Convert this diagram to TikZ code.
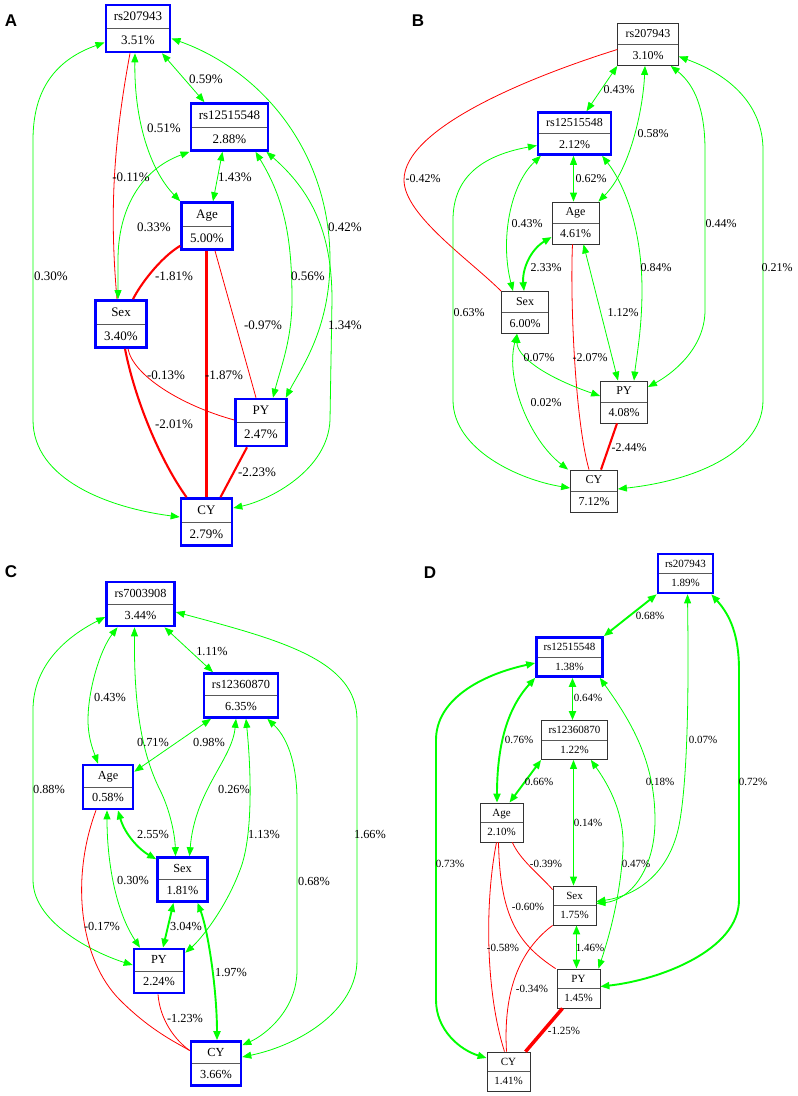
\documentclass[tikz,border=0pt]{standalone}
\usepackage{fontspec}
\setmainfont{Liberation Serif}
\newfontfamily\panelfont{Liberation Sans}
\usetikzlibrary{arrows.meta}

\tikzset{
  box/.style={draw=black!80, line width=0.8pt, align=center, inner xsep=8pt, inner ysep=1pt,
    path picture={\draw[black!65,line width=1pt] (path picture bounding box.west) -- (path picture bounding box.east);}},
  hl/.style={draw=blue, line width=2.6pt},
  plink/.style={draw=green, line width=0.8pt, <->},
  plinkw/.style={plink, line width=1.9pt},
  nlink/.style={draw=red, line width=0.8pt},
  nlinkw/.style={nlink, line width=2.1pt},
  lbl/.style={inner sep=0pt},
  panel/.style={font=\panelfont\bfseries\fontsize{17}{17}\selectfont, inner sep=0pt}
}

\begin{document}
\begin{tikzpicture}[x=1pt,y=-1pt,>={Triangle[length=9pt,width=7pt]}]
\useasboundingbox (0,0) rectangle (798,1096);
\node[panel] at (11,21)(pA){A};
\node[panel] at (418,21)(pB){B};
\node[panel] at (11,572)(pC){C};
\node[panel] at (430,573)(pD){D};

% panel A
\begin{scope}[font=\fontsize{13}{24}\selectfont, box/.append style={minimum width=51pt, minimum height=47pt}]
  \node[box,hl] at (138,28.5)(aRs){rs207943\\3.51\%};
  \node[box,hl] at (229.5,127)(aRb){rs12515548\\2.88\%};
  \node[box,hl] at (207,226)(aAge){Age\\5.00\%};
  \node[box,hl] at (121,324)(aSex){Sex\\3.40\%};
  \node[box,hl] at (261,422.5)(aPY){PY\\2.47\%};
  \node[box,hl] at (206.5,522)(aCY){CY\\2.79\%};
  \draw[plink] ([yshift=-14pt]aRs.west) .. controls (55,60) and (33,90) .. (33,140) -- (33,420) .. controls (33,480) and (110,508) .. ([yshift=5pt]aCY.west);
  \draw[nlink] ([xshift=-8pt]aRs.south) .. controls (112,150) and (110,220) .. ([xshift=-4pt]aSex.north);
  \draw[plink] ([xshift=-3pt]aRs.south) .. controls (134,120) and (150,170) .. (aAge.north west);
  \draw[plink] ([xshift=24pt]aRs.south) -- ([xshift=-25pt]aRb.north);
  \draw[plink] ([yshift=-10pt]aRs.east) .. controls (260,70) and (330,150) .. (330,260) .. controls (330,330) and (300,370) .. ([xshift=-2pt]aPY.north east);
  \draw[plink] ([xshift=-3pt]aRb.south east) .. controls (310,190) and (332,230) .. (332,300) -- (330,420) .. controls (328,470) and (270,500) .. ([yshift=14pt]aCY.east);
  \draw[plink] ([xshift=-7pt]aRb.south) -- ([xshift=6pt]aAge.north);
  \draw[plink] (aRb.south west) .. controls (140,170) and (118,210) .. (118,260) -- ([xshift=-3pt]aSex.north);
  \draw[plink] ([xshift=-14pt]aRb.south east) .. controls (285,200) and (292,240) .. (292,300) .. controls (292,340) and (280,370) .. ([xshift=12pt]aPY.north);
  \draw[nlinkw] ([yshift=5pt]aAge.south west) .. controls (160,258) and (140,285) .. ([xshift=12pt]aSex.north);
  \draw[nlinkw] ([xshift=-0.5pt]aAge.south) -- (aCY.north);
  \draw[nlink] ([xshift=8pt]aAge.south) -- ([xshift=-5pt]aPY.north);
  \draw[nlink] ([xshift=7pt]aSex.south) .. controls (133,375) and (180,405) .. ([yshift=2.5pt]aPY.west);
  \draw[nlinkw] ([xshift=4pt]aSex.south) .. controls (135,400) and (160,460) .. ([xshift=-20pt]aCY.north);
  \draw[nlinkw] ([xshift=-14pt]aPY.south) -- ([xshift=14pt]aCY.north);
  \foreach \x/\y/\t [count=\i] in {51/276/0.30, 131/177/-0.11, 164/128/0.51, 206/79/0.59, 345/227/0.42,
      345/325/1.34, 235/177/1.43, 154/227/0.33, 308/276/0.56, 174/276/-1.81, 224/375/-1.87,
      263/325/-0.97, 166/375/-0.13, 174/424/-2.01, 257/472/-2.23}
    \node[lbl] at (\x,\y)(aL\i){\t\%};
\end{scope}

% panel B
\begin{scope}[font=\fontsize{12}{22}\selectfont, box/.append style={minimum width=47pt, minimum height=42pt}]
  \node[box] at (648,44.5)(bRs){rs207943\\3.10\%};
  \node[box,hl] at (574.5,133.5)(bRb){rs12515548\\2.12\%};
  \node[box] at (575.5,223)(bAge){Age\\4.61\%};
  \node[box] at (525,312.5)(bSex){Sex\\6.00\%};
  \node[box] at (624,402)(bPY){PY\\4.08\%};
  \node[box] at (594,491)(bCY){CY\\7.12\%};
  \draw[nlink] ([yshift=-5pt]bRs.west) .. controls (520,80) and (404,130) .. (404,180) .. controls (404,215) and (470,260) .. (bSex.north west);
  \draw[plink] (bRs.south west) -- ([xshift=12pt]bRb.north);
  \draw[plink] ([xshift=-3pt]bRs.south) .. controls (643,110) and (630,170) .. ([xshift=-1pt]bAge.north east);
  \draw[plink] ([xshift=-8pt]bRs.south east) .. controls (695,85) and (705,110) .. (705,150) -- (705,310) .. controls (705,350) and (670,375) .. ([yshift=15pt]bPY.east);
  \draw[plink] ([yshift=-12pt]bRs.east) .. controls (730,75) and (763,105) .. (763,150) -- (763,400) .. controls (763,450) and (700,480) .. ([yshift=2pt]bCY.east);
  \draw[plink] ([xshift=-1pt]bRb.south) -- ([xshift=-2pt]bAge.north);
  \draw[plink] ([xshift=4pt]bRb.south west) .. controls (510,185) and (500,240) .. ([xshift=-12pt]bSex.north);
  \draw[plink] ([yshift=-12pt]bRb.west) .. controls (485,155) and (453,175) .. (453,220) -- (453,400) .. controls (453,450) and (520,480) .. ([yshift=3pt]bCY.west);
  \draw[plink] ([xshift=-10pt]bRb.south east) .. controls (625,185) and (642,230) .. (642,290) .. controls (642,330) and (636,360) .. ([xshift=10pt]bPY.north);
  \draw[plinkw] ([yshift=-14pt]bAge.west) .. controls (530,250) and (522,270) .. ([xshift=-1pt]bSex.north);
  \draw[nlink] ([xshift=-3pt]bAge.south) .. controls (570,300) and (575,420) .. ([xshift=-5pt]bCY.north);
  \draw[plink] ([xshift=8pt]bAge.south) -- ([xshift=-6pt]bPY.north);
  \draw[plink] ([xshift=-8pt]bSex.south) .. controls (517,355) and (540,375) .. ([yshift=6pt]bPY.west);
  \draw[plink] ([xshift=-8pt]bSex.south) .. controls (505,380) and (530,440) .. ([xshift=-2pt]bCY.north west);
  \draw[nlinkw] ([xshift=-7pt]bPY.south) -- ([xshift=7pt]bCY.north);
  \foreach \x/\y/\t [count=\i] in {423/179/-0.42, 619/90/0.43, 653/134/0.58, 721/224/0.44, 777/268/0.21,
      591/179/0.62, 527/224/0.43, 469/313/0.63, 656/268/0.84, 546/268/2.33, 590/358/-2.07,
      623/313/1.12, 539/358/0.07, 546/403/0.02, 629/448/-2.44}
    \node[lbl] at (\x,\y)(bL\i){\t\%};
\end{scope}

% panel C
\begin{scope}[font=\fontsize{12.3}{22}\selectfont, box/.append style={minimum width=50pt, minimum height=44pt}]
  \node[box,hl] at (140.5,604)(cRs){rs7003908\\3.44\%};
  \node[box,hl] at (241,695.5)(cRc){rs12360870\\6.35\%};
  \node[box,hl] at (108,787)(cAge){Age\\0.58\%};
  \node[box,hl] at (182.5,879.5)(cSex){Sex\\1.81\%};
  \node[box,hl] at (159,971)(cPY){PY\\2.24\%};
  \node[box,hl] at (216,1063.5)(cCY){CY\\3.66\%};
  \draw[plink] ([yshift=-13pt]cRs.west) .. controls (60,640) and (33,670) .. (33,710) -- (33,880) .. controls (33,925) and (100,955) .. ([yshift=6pt]cPY.west);
  \draw[plink] ([xshift=-23pt]cRs.south) .. controls (100,650) and (88,690) .. (88,720) .. controls (88,740) and (95,755) .. ([xshift=-10pt]cAge.north);
  \draw[plink] ([xshift=-6pt]cRs.south) .. controls (134,700) and (140,750) .. (160,790) .. controls (170,810) and (175,835) .. ([xshift=-7pt]cSex.north);
  \draw[plink] ([xshift=24pt]cRs.south) -- ([xshift=-28pt]cRc.north);
  \draw[plink] ([yshift=-8pt]cRs.east) .. controls (280,640) and (357,660) .. (357,720) -- (357,960) .. controls (357,1010) and (300,1045) .. ([yshift=6.5pt]cCY.east);
  \draw[plink] ([xshift=-30pt]cRc.south) -- ([yshift=-8pt]cAge.north east);
  \draw[plink] ([xshift=-5pt]cRc.south) .. controls (232,760) and (195,790) .. ([xshift=7pt]cSex.north);
  \draw[plink] ([xshift=5pt]cRc.south) .. controls (252,780) and (252,840) .. (240,870) .. controls (225,910) and (200,940) .. ([yshift=-5pt]cPY.north east);
  \draw[plink] ([xshift=-12pt]cRc.south east) .. controls (290,740) and (297,770) .. (297,800) -- (297,970) .. controls (297,1010) and (265,1035) .. ([yshift=-5pt]cCY.north east);
  \draw[plinkw] ([xshift=10pt]cAge.south) .. controls (125,835) and (140,850) .. ([yshift=-3pt]cSex.north west);
  \draw[plink] ([xshift=-1pt]cAge.south) .. controls (107,860) and (115,910) .. ([xshift=-19pt]cPY.north);
  \draw[nlink] ([xshift=-12pt]cAge.south) .. controls (70,880) and (80,960) .. (120,1000) .. controls (150,1030) and (175,1042) .. ([yshift=13pt]cCY.west);
  \draw[plinkw] ([xshift=-9pt]cSex.south) -- ([xshift=4pt]cPY.north);
  \draw[plinkw] ([xshift=15pt]cSex.south) .. controls (208,930) and (217,990) .. ([xshift=1pt]cCY.north);
  \draw[nlink] ([xshift=-1pt]cPY.south) .. controls (160,1020) and (175,1040) .. ([yshift=13pt]cCY.west);
  \foreach \x/\y/\t [count=\i] in {49/789/0.88, 110/697/0.43, 153/742/0.71, 212/651/1.11, 370/834/1.66,
      209/742/0.98, 234/789/0.26, 264/834/1.13, 314/881/0.68, 153/834/2.55, 133/880/0.30,
      102/926/-0.17, 186/926/3.04, 231/972/1.97, 185/1018/-1.23}
    \node[lbl] at (\x,\y)(cL\i){\t\%};
\end{scope}

% panel D
\begin{scope}[font=\fontsize{11}{19.5}\selectfont, box/.append style={minimum width=43pt, minimum height=39pt, inner xsep=7pt}]
  \node[box,hl] at (685.5,573.5)(dRs){rs207943\\1.89\%};
  \node[box,hl] at (569.5,657)(dRb){rs12515548\\1.38\%};
  \node[box] at (574.5,740)(dRc){rs12360870\\1.22\%};
  \node[box] at (501.5,822.5)(dAge){Age\\2.10\%};
  \node[box] at (574.5,905.5)(dSex){Sex\\1.75\%};
  \node[box] at (578.5,988.5)(dPY){PY\\1.45\%};
  \node[box] at (508.5,1071.5)(dCY){CY\\1.41\%};
  \draw[plinkw] (dRs.south west) -- (dRb.north east);
  \draw[plink] ([xshift=2pt]dRs.south) .. controls (688,640) and (690,760) .. (680,820) .. controls (672,870) and (640,895) .. ([yshift=4pt]dSex.east);
  \draw[plinkw] ([xshift=-3pt]dRs.south east) .. controls (730,615) and (739,635) .. (739,670) -- (739,900) .. controls (739,950) and (660,980) .. ([yshift=2pt]dPY.east);
  \draw[plinkw] ([yshift=-6pt]dRb.west) .. controls (480,675) and (436,700) .. (436,740) -- (436,1000) .. controls (436,1030) and (460,1050) .. ([yshift=13.5pt]dCY.west);
  \draw[plinkw] (dRb.south west) .. controls (515,700) and (497,730) .. ([xshift=-4.5pt]dAge.north);
  \draw[plinkw] ([xshift=3pt]dRb.south) -- ([xshift=-2pt]dRc.north);
  \draw[plink] ([xshift=-4pt]dRb.south east) .. controls (630,720) and (655,760) .. (655,820) .. controls (655,870) and (630,900) .. ([yshift=2pt]dSex.east);
  \draw[plinkw] (dRc.south west) -- ([xshift=8pt]dAge.north);
  \draw[plink] ([xshift=-1pt]dRc.south) -- ([xshift=-1pt]dSex.north);
  \draw[plink] ([xshift=-17pt]dRc.south east) .. controls (605,780) and (625,810) .. (623,850) .. controls (620,900) and (608,940) .. ([xshift=-2pt]dPY.north east);
  \draw[nlink] ([xshift=-11pt]dAge.south east) .. controls (520,860) and (540,875) .. ([yshift=-4pt]dSex.north west);
  \draw[nlink] ([xshift=-3pt]dAge.south) .. controls (500,920) and (520,945) .. ([xshift=-1pt]dPY.north west);
  \draw[nlink] ([xshift=-5pt]dAge.south) .. controls (485,900) and (485,990) .. ([xshift=-4pt]dCY.north);
  \draw[nlink] (dSex.south west) .. controls (520,950) and (503,990) .. ([xshift=-2pt]dCY.north);
  \draw[plinkw] ([xshift=2pt]dSex.south) -- ([xshift=-2pt]dPY.north);
  \draw[nlinkw, line width=3.5pt] ([xshift=-16pt]dPY.south) -- ([xshift=17pt]dCY.north);
  \foreach \x/\y/\t [count=\i] in {650/616/0.68, 703/740/0.07, 753/782/0.72, 450/864/0.73, 519/740/0.76,
      588/698/0.64, 660/782/0.18, 539/782/0.66, 588/823/0.14, 636/864/0.47, 546/864/-0.39,
      528/907/-0.60, 503/948/-0.58, 532/989/-0.34, 590/948/1.46, 564/1031/-1.25}
    \node[lbl] at (\x,\y)(dL\i){\t\%};
\end{scope}
\end{tikzpicture}
\end{document}
